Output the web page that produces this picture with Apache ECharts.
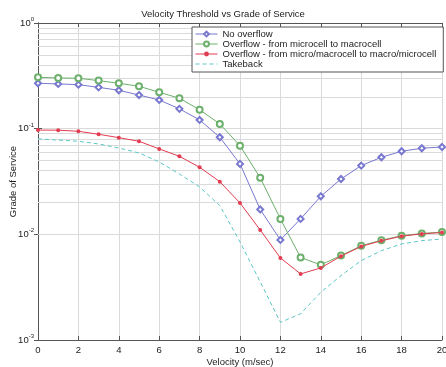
<!DOCTYPE html>
<html>
<head>
<meta charset="utf-8">
<script src="https://cdn.jsdelivr.net/npm/echarts@6/dist/echarts.min.js"></script>
<style>
html,body{margin:0;padding:0;background:#fff;}
#chart{width:446px;height:367px;}
</style>
</head>
<body>
<div id="chart"></div>
<script>
const velocity = [0,1,2,3,4,5,6,7,8,9,10,11,12,13,14,15,16,17,18,19,20];
const noOverflow = [0.269,0.265,0.261,0.246,0.231,0.208,0.187,0.154,0.121,0.0829,0.0464,0.0172,0.00885,0.0140,0.0229,0.0334,0.0447,0.0536,0.0611,0.0653,0.0671];
const overflowMicroToMacro = [0.306,0.302,0.300,0.285,0.269,0.252,0.221,0.194,0.151,0.111,0.069,0.0343,0.0140,0.00604,0.00514,0.0063,0.0078,0.0088,0.0097,0.0102,0.0105];
const overflowBoth = [0.097,0.0968,0.0944,0.0885,0.0822,0.076,0.0643,0.0548,0.0431,0.0315,0.0198,0.0110,0.00598,0.00422,0.00481,0.00621,0.00769,0.00869,0.0096,0.0101,0.0104];
const takeback = [0.080,0.078,0.076,0.0717,0.0657,0.0589,0.0484,0.0373,0.0281,0.0187,0.00848,0.00355,0.00147,0.00177,0.00283,0.00407,0.00564,0.00701,0.00811,0.00871,0.00904];
const seriesNames = ['No overflow','Overflow - from microcell to macrocell','Overflow - from micro/macrocell to macro/microcell','Takeback'];
const xTicks = [0,2,4,6,8,10,12,14,16,18,20];

function pairs(arr){ return velocity.map((v,i)=>[v,arr[i]]); }

const minorVals = [];
[0.001,0.01,0.1].forEach(d=>{ for(let k=2;k<=9;k++) minorVals.push(+(d*k).toPrecision(3)); });

const font = 'Liberation Sans, Arial, sans-serif';
const axisColor = '#555';
const gridColor = '#dadada';

const chart = echarts.init(document.getElementById('chart'), null, {renderer:'canvas'});
chart.setOption({
  animation:false,
  backgroundColor:'#fff',
  title:{
    text:'Velocity Threshold vs Grade of Service',
    left:'center', top:4,
    textStyle:{fontFamily:font,fontSize:9.5,fontWeight:'normal',color:'#222'}
  },
  legend:{
    data:[seriesNames[0],seriesNames[1],seriesNames[2],{name:seriesNames[3],itemStyle:{opacity:0}}],
    orient:'vertical',
    left:192, top:27, z:10,
    backgroundColor:'#fff',
    borderColor:'#555', borderWidth:1, borderRadius:0,
    padding:[2,7,3,3],
    itemGap:0, itemWidth:22, itemHeight:6,
    lineStyle:{width:1},
    itemStyle:{borderWidth:1},
    textStyle:{fontFamily:font,fontSize:9.5,color:'#222',padding:[0,0,0,0]}
  },
  grid:{left:38,right:4,top:23,bottom:27,containLabel:false,outerBoundsMode:'none'},
  xAxis:[{
    type:'value', min:0, max:20, interval:2,
    name:'Velocity (m/sec)', nameLocation:'middle', nameGap:17, nameMoveOverlap:false,
    nameTextStyle:{fontFamily:font,fontSize:9.5,color:'#222'},
    axisLine:{show:true,lineStyle:{color:axisColor,width:1}},
    axisTick:{show:true,inside:true,length:4,lineStyle:{color:axisColor}},
    axisLabel:{fontFamily:font,fontSize:9.5,color:'#222',margin:5,
      formatter:v=> xTicks.indexOf(v)>=0 ? String(v) : ''},
    splitLine:{show:true,lineStyle:{color:gridColor,width:1}}
  },{
    type:'value', min:0, max:20, interval:2, position:'top',
    axisLine:{show:true,lineStyle:{color:axisColor,width:1}},
    axisTick:{show:true,inside:true,length:4,lineStyle:{color:axisColor}},
    axisLabel:{show:false}, splitLine:{show:false}
  }],
  yAxis:[{
    type:'log', logBase:10, min:0.001, max:1,
    name:'Grade of Service', nameLocation:'middle', nameGap:20, nameMoveOverlap:false,
    nameTextStyle:{fontFamily:font,fontSize:9.5,color:'#222'},
    axisLine:{show:true,lineStyle:{color:axisColor,width:1}},
    axisTick:{show:true,inside:true,length:4,lineStyle:{color:axisColor}},
    axisLabel:{
      margin:4,
      formatter:v=>{ const e=Math.round(Math.log10(v)); return '{b|10}{s|'+e+'}'; },
      rich:{
        b:{fontFamily:font,fontSize:9.5,color:'#222'},
        s:{fontFamily:font,fontSize:6,color:'#222',verticalAlign:'bottom',padding:[0,0,7,0]}
      }
    },
    splitLine:{show:true,lineStyle:{color:gridColor,width:1}}
  },{
    type:'log', logBase:10, min:0.001, max:1, position:'right',
    axisLine:{show:true,lineStyle:{color:axisColor,width:1}},
    axisTick:{show:true,inside:true,length:4,lineStyle:{color:axisColor}},
    axisLabel:{show:false}, splitLine:{show:false}
  }],
  series:[
    {
      name:'minorGrid', type:'line', data:[], z:1, silent:true,
      markLine:{
        z:1,
        silent:true, symbol:['none','none'], animation:false,
        label:{show:false},
        lineStyle:{color:gridColor,width:1,type:'solid'},
        emphasis:{disabled:true},
        data:minorVals.map(v=>({yAxis:v}))
      }
    },
    {
      name:seriesNames[3], type:'line', data:pairs(takeback),
      showSymbol:false, symbol:'none',
      lineStyle:{color:'#5cc8c8',width:1,type:[4,3]},
      itemStyle:{color:'#5cc8c8'}, z:3
    },
    {
      name:seriesNames[0], type:'line', data:pairs(noOverflow),
      symbol:'emptyDiamond', symbolSize:6,
      lineStyle:{color:'#7878d0',width:1},
      itemStyle:{color:'#7878d0',borderWidth:1}, z:4
    },
    {
      name:seriesNames[1], type:'line', data:pairs(overflowMicroToMacro),
      symbol:'emptyCircle', symbolSize:6,
      lineStyle:{color:'#6cb06c',width:1},
      itemStyle:{color:'#6cb06c',borderWidth:1}, z:5
    },
    {
      name:seriesNames[2], type:'line', data:pairs(overflowBoth),
      symbol:'circle', symbolSize:4,
      lineStyle:{color:'#e23c50',width:1},
      itemStyle:{color:'#e23c50'}, z:6
    }
  ]
});
</script>
</body>
</html>
